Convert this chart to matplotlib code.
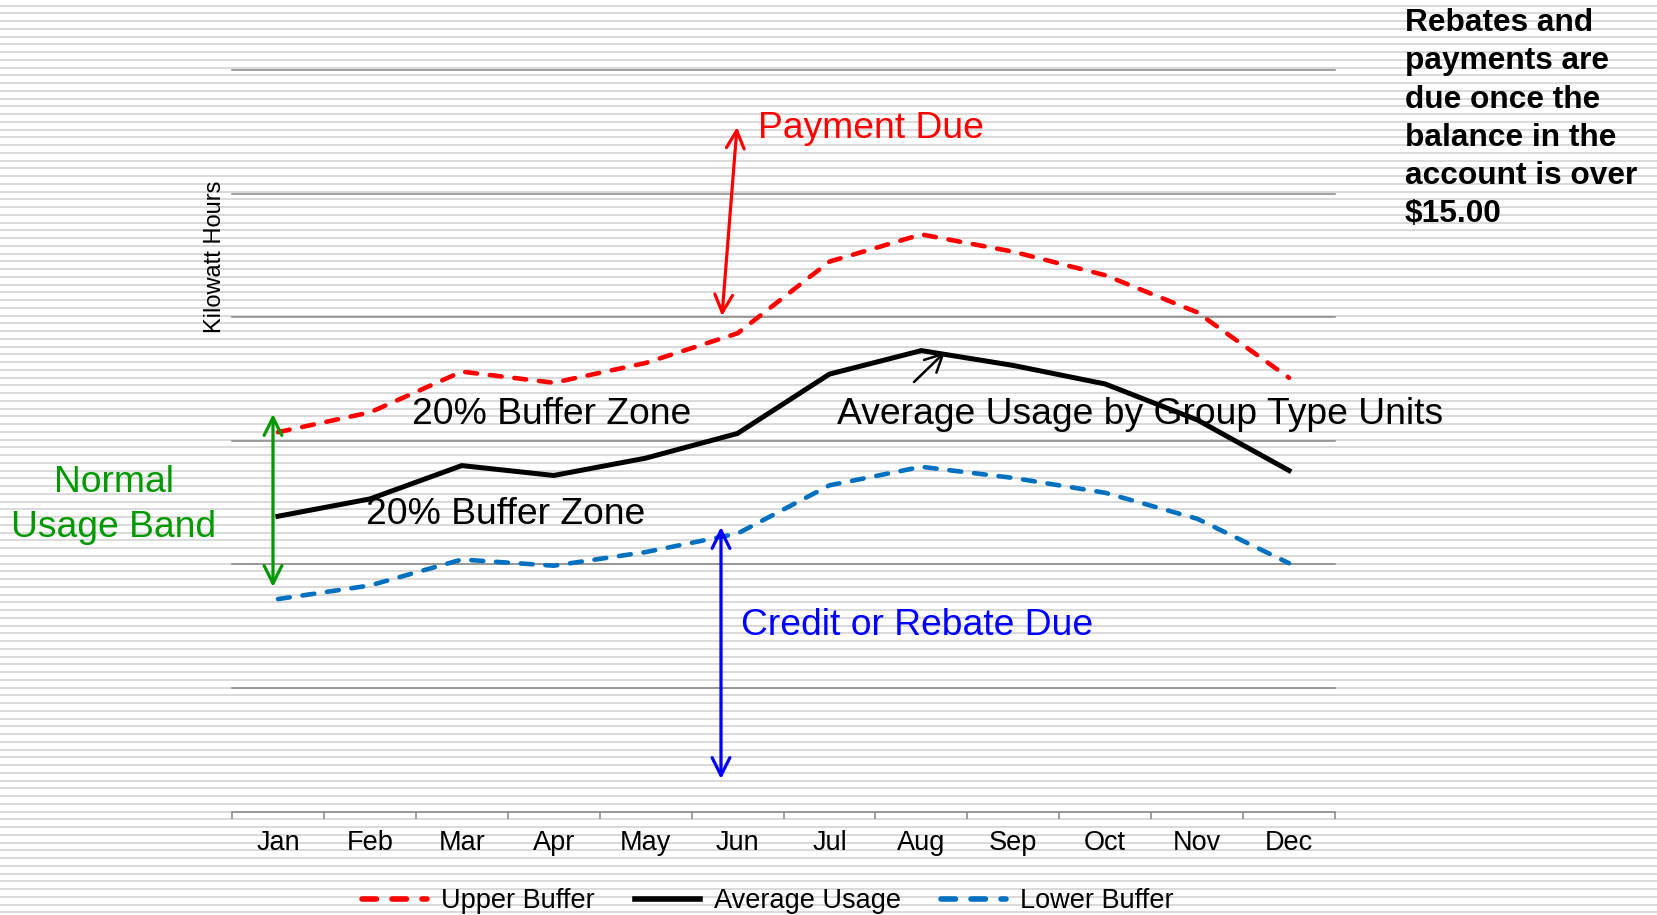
import numpy as np
import matplotlib
matplotlib.use("Agg")
import matplotlib.pyplot as plt

plt.rcParams["font.family"] = ["Liberation Sans", "DejaVu Sans"]

months = ["Jan", "Feb", "Mar", "Apr", "May", "Jun",
          "Jul", "Aug", "Sep", "Oct", "Nov", "Dec"]
upper = [3.07, 3.23, 3.56, 3.47, 3.63, 3.87, 4.45, 4.67, 4.53, 4.34, 4.04, 3.51]
average = [2.39, 2.53, 2.80, 2.72, 2.86, 3.06, 3.54, 3.73, 3.61, 3.46, 3.17, 2.76]
lower = [1.72, 1.83, 2.04, 1.99, 2.10, 2.25, 2.64, 2.79, 2.70, 2.58, 2.37, 2.01]

W, H = 1657, 915
fig = plt.figure(figsize=(W / 100, H / 100), dpi=100)

def px(x, y):
    # full-size pixel coords (top-left origin) -> figure fraction
    return x / W, 1 - y / H

# striped background
bg = fig.add_axes([0, 0, 1, 1], zorder=-10)
bg.set_xlim(0, W); bg.set_ylim(H, 0); bg.set_axis_off()
for yy in np.arange(5.7, H, 7.75):
    bg.axhline(yy, color="#d9d9d9", lw=1.4)

grid_c = "#868686"
ax = fig.add_axes([232 / W, 1 - 811.7 / H, (1335 - 232) / W, (811.7 - 70) / H])
ax.patch.set_alpha(0)
x = np.arange(len(months))
ax.plot(x, upper, color="#ff0000", lw=3.3, dashes=(2.6, 2.8),
        dash_capstyle="round", label="Upper Buffer", zorder=3)
ax.plot(x, average, color="black", lw=3.6, solid_joinstyle="miter",
        label="Average Usage", zorder=3)
ax.plot(x, lower, color="#0070c0", lw=3.3, dashes=(2.6, 2.8),
        dash_capstyle="round", label="Lower Buffer", zorder=3)

ax.set_xlim(-0.5, 11.5)
ax.set_ylim(0, 6)
for g in range(1, 7):
    ax.axhline(g, color=grid_c, lw=1.1, zorder=1, clip_on=False)
for s in ("top", "right", "left"):
    ax.spines[s].set_visible(False)
ax.spines["bottom"].set_color(grid_c)
ax.spines["bottom"].set_linewidth(1.1)
ax.set_yticks([])
ax.set_xticks(x)
ax.set_xticklabels(months, fontsize=19.5)
ax.tick_params(axis="x", which="major", length=0, pad=13)
ax.set_xticks(np.arange(-0.5, 12, 1), minor=True)
ax.tick_params(axis="x", which="minor", length=5, width=1.1, color=grid_c,
               direction="out")

fig.text(*px(215, 257), "Kilowatt Hours", rotation=90, fontsize=17,
         ha="center", va="center")

big = 26.8
fig.text(*px(758, 138), "Payment Due", color="#ff0000", fontsize=big, va="baseline")
fig.text(*px(412, 424), "20% Buffer Zone", fontsize=big, va="baseline")
fig.text(*px(366, 524), "20% Buffer Zone", fontsize=big, va="baseline")
fig.text(*px(837, 424), "Average Usage by Group Type Units", fontsize=big,
         va="baseline")
fig.text(*px(741, 635), "Credit or Rebate Due", color="#0000ff", fontsize=big,
         va="baseline")
fig.text(*px(114, 505), "Normal\nUsage Band", color="#009900", fontsize=big,
         ha="center", va="center", linespacing=1.36)
fig.text(*px(1405, 8), "Rebates and\npayments are\ndue once the\nbalance in the\n"
         "account is over\n$15.00", fontsize=22.8, fontweight="bold",
         ha="left", va="top", linespacing=1.36)

def arrow(p0, p1, color, style="<->", lw=2.3):
    fig.add_artist(matplotlib.patches.FancyArrowPatch(
        px(*p0), px(*p1), transform=fig.transFigure, arrowstyle=style,
        mutation_scale=32, color=color, lw=lw, shrinkA=0, shrinkB=0))

arrow((722, 316), (737, 127), "#ff0000")
arrow((721, 779), (721, 527), "#0000ff")
arrow((273, 587), (273, 414), "#009900")
arrow((914, 382), (945, 352), "black", style="->", lw=1.8)

leg = fig.legend(loc="center", bbox_to_anchor=px(768, 901), ncol=3, frameon=False,
                 fontsize=19.5, handlelength=2.4, handletextpad=0.5,
                 columnspacing=1.5)
for ln in leg.get_lines():
    ln.set_linewidth(4.0)

fig.savefig("out.png", dpi=100)
